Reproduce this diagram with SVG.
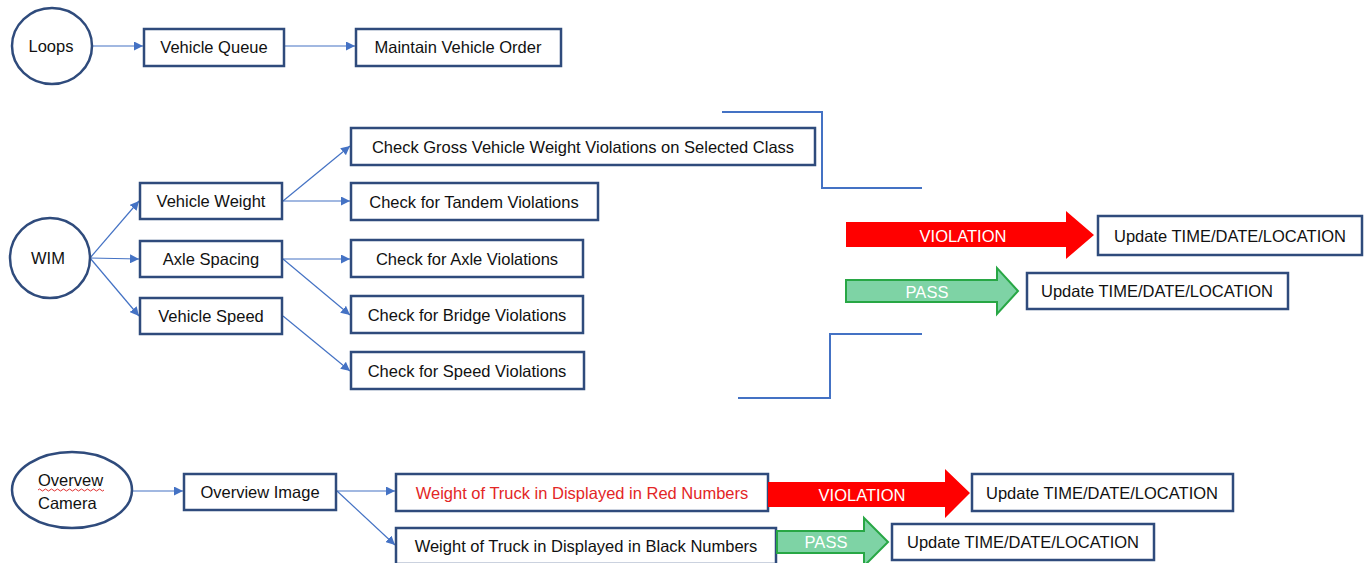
<svg xmlns="http://www.w3.org/2000/svg" width="1369" height="563" viewBox="0 0 1369 563">
  <style>
    .box { fill: #ffffff; stroke: #2f4b7c; stroke-width: 2.5; }
    .circ { fill: #ffffff; stroke: #2f4b7c; stroke-width: 2.5; }
    .lbl { font-family: "Liberation Sans", Arial, sans-serif; font-size: 16.5px; fill: #111111; text-anchor: middle; dominant-baseline: central; }
    .left { text-anchor: start; }
    .red { fill: #e32626; }
    .wht { fill: #ffffff; }
    .conn { stroke: #4472c4; stroke-width: 1.2; fill: none; }
    .brk { stroke: #4472c4; stroke-width: 2; fill: none; }
    .big-red { fill: #ff0000; }
    .big-green { fill: #7ed3a5; stroke: #28a745; stroke-width: 2; }
  </style>
  <defs>
    <marker id="ah" viewBox="0 0 10 10" refX="10" refY="5" markerWidth="9" markerHeight="9" markerUnits="userSpaceOnUse" orient="auto">
      <path d="M0,0 L10,5 L0,10 z" fill="#4472c4"/>
    </marker>
  </defs>
  <rect width="1369" height="563" fill="#ffffff"/>

  <!-- connectors -->
  <g id="connectors">
    <line class="conn" x1="92" y1="46" x2="143" y2="46" marker-end="url(#ah)"/>
    <line class="conn" x1="284" y1="46" x2="355" y2="46" marker-end="url(#ah)"/>

    <line class="conn" x1="90" y1="258" x2="139" y2="201" marker-end="url(#ah)"/>
    <line class="conn" x1="90" y1="258" x2="139" y2="259" marker-end="url(#ah)"/>
    <line class="conn" x1="90" y1="258" x2="139" y2="316" marker-end="url(#ah)"/>

    <line class="conn" x1="283" y1="201" x2="350" y2="146" marker-end="url(#ah)"/>
    <line class="conn" x1="283" y1="201" x2="350" y2="201" marker-end="url(#ah)"/>
    <line class="conn" x1="283" y1="259" x2="350" y2="259" marker-end="url(#ah)"/>
    <line class="conn" x1="283" y1="259" x2="350" y2="315" marker-end="url(#ah)"/>
    <line class="conn" x1="283" y1="316" x2="350" y2="371" marker-end="url(#ah)"/>

    <line class="conn" x1="133" y1="491" x2="183" y2="491" marker-end="url(#ah)"/>
    <line class="conn" x1="337" y1="491" x2="395" y2="491" marker-end="url(#ah)"/>
    <line class="conn" x1="337" y1="491" x2="395" y2="545" marker-end="url(#ah)"/>

    <!-- bracket lines -->
    <polyline class="brk" points="722,112 822,112 822,188 922,188"/>
    <polyline class="brk" points="922,334 830,334 830,398 738,398"/>
  </g>

  <!-- Loops row -->
  <g id="loops">
    <ellipse class="circ" cx="52" cy="46" rx="40" ry="38"/>
    <text class="lbl" x="51" y="46">Loops</text>
  </g>
  <g id="vehicle-queue">
    <rect class="box" x="144" y="29" width="140" height="37"/>
    <text class="lbl" x="214" y="47">Vehicle Queue</text>
  </g>
  <g id="maintain-order">
    <rect class="box" x="356" y="29" width="205" height="37"/>
    <text class="lbl" x="458" y="47">Maintain Vehicle Order</text>
  </g>

  <!-- WIM section -->
  <g id="wim">
    <ellipse class="circ" cx="50" cy="258" rx="40" ry="40"/>
    <text class="lbl" x="48" y="258">WIM</text>
  </g>
  <g id="vehicle-weight">
    <rect class="box" x="140" y="183" width="142" height="36"/>
    <text class="lbl" x="211" y="201">Vehicle Weight</text>
  </g>
  <g id="axle-spacing">
    <rect class="box" x="140" y="241" width="142" height="36"/>
    <text class="lbl" x="211" y="259">Axle Spacing</text>
  </g>
  <g id="vehicle-speed">
    <rect class="box" x="140" y="298" width="142" height="36"/>
    <text class="lbl" x="211" y="316">Vehicle Speed</text>
  </g>
  <g id="check-gross">
    <rect class="box" x="351" y="128" width="464" height="37"/>
    <text class="lbl" x="583" y="146.5">Check Gross Vehicle Weight Violations on Selected Class</text>
  </g>
  <g id="check-tandem">
    <rect class="box" x="351" y="183" width="247" height="37"/>
    <text class="lbl" x="474" y="201.5">Check for Tandem Violations</text>
  </g>
  <g id="check-axle">
    <rect class="box" x="351" y="240" width="232" height="37"/>
    <text class="lbl" x="467" y="258.5">Check for Axle Violations</text>
  </g>
  <g id="check-bridge">
    <rect class="box" x="351" y="296" width="232" height="37"/>
    <text class="lbl" x="467" y="314.5">Check for Bridge Violations</text>
  </g>
  <g id="check-speed">
    <rect class="box" x="351" y="352" width="233" height="37"/>
    <text class="lbl" x="467" y="370.5">Check for Speed Violations</text>
  </g>

  <!-- WIM outcomes -->
  <g id="wim-violation">
    <path class="big-red" d="M846,222 L1066,222 L1066,211 L1094,235 L1066,259 L1066,247 L846,247 z"/>
    <text class="lbl wht" x="963" y="236">VIOLATION</text>
  </g>
  <g id="wim-violation-update">
    <rect class="box" x="1098" y="216" width="264" height="39"/>
    <text class="lbl" x="1230" y="236">Update TIME/DATE/LOCATION</text>
  </g>
  <g id="wim-pass">
    <path class="big-green" d="M846,280 L997,280 L997,268 L1018,291 L997,314 L997,302 L846,302 z"/>
    <text class="lbl wht" x="927" y="292">PASS</text>
  </g>
  <g id="wim-pass-update">
    <rect class="box" x="1027" y="273" width="261" height="36"/>
    <text class="lbl" x="1157" y="291">Update TIME/DATE/LOCATION</text>
  </g>

  <!-- Overview camera section -->
  <g id="overview-camera">
    <ellipse class="circ" cx="72" cy="490" rx="60" ry="38"/>
    <text class="lbl left" x="38" y="480">Overvew</text>
    <path d="M38,490 q1.5,-2 3,0 t3,0 t3,0 t3,0 t3,0 t3,0 t3,0 t3,0 t3,0 t3,0 t3,0 t3,0 t3,0 t3,0 t3,0 t3,0 t3,0 t3,0 t3,0 t3,0 t3,0 t3,0" fill="none" stroke="#e03030" stroke-width="1"/>
    <text class="lbl left" x="38" y="503">Camera</text>
  </g>
  <g id="overview-image">
    <rect class="box" x="184" y="474" width="152" height="36"/>
    <text class="lbl" x="260" y="492">Overview Image</text>
  </g>
  <g id="red-numbers">
    <rect class="box" x="396" y="474" width="372" height="37"/>
    <text class="lbl red" x="582" y="492.5">Weight of Truck in Displayed in Red Numbers</text>
  </g>
  <g id="black-numbers">
    <rect class="box" x="396" y="528" width="380" height="36"/>
    <text class="lbl" x="586" y="546">Weight of Truck in Displayed in Black Numbers</text>
  </g>
  <g id="cam-violation">
    <path class="big-red" d="M768,482 L945,482 L945,469 L970,493 L945,518 L945,507 L768,507 z"/>
    <text class="lbl wht" x="862" y="495">VIOLATION</text>
  </g>
  <g id="cam-violation-update">
    <rect class="box" x="972" y="474" width="261" height="37"/>
    <text class="lbl" x="1102" y="492.5">Update TIME/DATE/LOCATION</text>
  </g>
  <g id="cam-pass">
    <path class="big-green" d="M777,531 L864,531 L864,518 L888,542 L864,566 L864,553 L777,553 z"/>
    <text class="lbl wht" x="826" y="542">PASS</text>
  </g>
  <g id="cam-pass-update">
    <rect class="box" x="892" y="524" width="262" height="36"/>
    <text class="lbl" x="1023" y="542">Update TIME/DATE/LOCATION</text>
  </g>
</svg>
